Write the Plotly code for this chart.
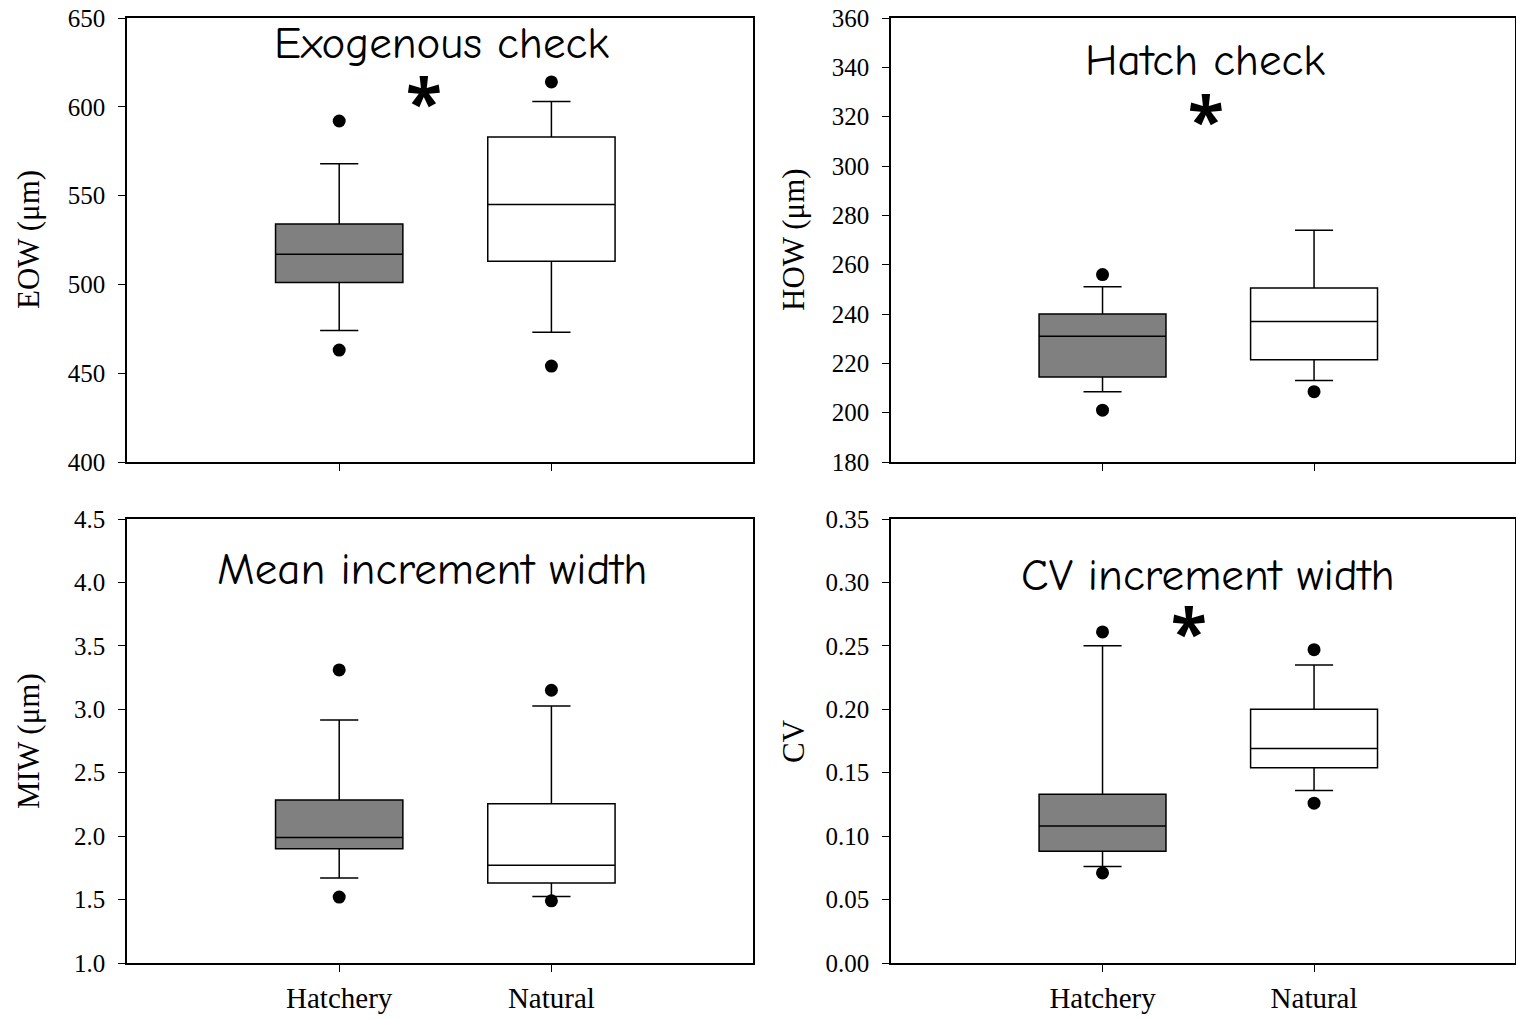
import plotly.graph_objects as go

groups = ["Hatchery", "Natural"]
xpos = [0, 1]

# EOW (um)
eow_q1 = [501, 513]
eow_med = [517, 545]
eow_q3 = [534, 583]
eow_lo = [474, 473]
eow_hi = [568, 603]
eow_out_hi = [592, 614]
eow_out_lo = [463, 454]

# HOW (um)
how_q1 = [214.5, 221.5]
how_med = [231, 237]
how_q3 = [240, 250.5]
how_lo = [208.5, 213]
how_hi = [251, 274]
how_out_hi = [256, None]
how_out_lo = [201, 208.5]

# MIW (um)
miw_q1 = [1.90, 1.63]
miw_med = [1.99, 1.77]
miw_q3 = [2.285, 2.255]
miw_lo = [1.67, 1.525]
miw_hi = [2.915, 3.025]
miw_out_hi = [3.31, 3.15]
miw_out_lo = [1.52, 1.49]

# CV
cv_q1 = [0.088, 0.154]
cv_med = [0.108, 0.169]
cv_q3 = [0.133, 0.200]
cv_lo = [0.076, 0.136]
cv_hi = [0.250, 0.235]
cv_out_hi = [0.261, 0.247]
cv_out_lo = [0.071, 0.126]

panels = [
    dict(q1=eow_q1, med=eow_med, q3=eow_q3, lo=eow_lo, hi=eow_hi, oh=eow_out_hi, ol=eow_out_lo,
         yr=[400, 650], dt=50, fmt="", ytitle="EOW (\u03bcm)", title="Exogenous check",
         star=(0.40, 603)),
    dict(q1=how_q1, med=how_med, q3=how_q3, lo=how_lo, hi=how_hi, oh=how_out_hi, ol=how_out_lo,
         yr=[180, 360], dt=20, fmt="", ytitle="HOW (\u03bcm)", title="Hatch check",
         star=(0.49, 319)),
    dict(q1=miw_q1, med=miw_med, q3=miw_q3, lo=miw_lo, hi=miw_hi, oh=miw_out_hi, ol=miw_out_lo,
         yr=[1.0, 4.5], dt=0.5, fmt=".1f", ytitle="MIW (\u03bcm)", title="Mean increment width",
         star=None),
    dict(q1=cv_q1, med=cv_med, q3=cv_q3, lo=cv_lo, hi=cv_hi, oh=cv_out_hi, ol=cv_out_lo,
         yr=[0.0, 0.35], dt=0.05, fmt=".2f", ytitle="CV", title="CV increment width",
         star=(0.41, 0.262)),
]

W, H = 1516, 1019
xdoms = [[127 / W, 753 / W], [891 / W, 1515 / W]]
ydoms = [[1 - 462 / H, 1 - 18 / H], [1 - 963 / H, 1 - 519 / H]]
title_pos = [(441, 43), (1205, 60), (432, 569), (1208, 575)]
ytitle_x = [28, 793, 28, 793]

fig = go.Figure()
fills = ["#808080", "#ffffff"]
serif = "Liberation Serif, Times New Roman, serif"

for i, p in enumerate(panels):
    r, c = divmod(i, 2)
    ax = "" if i == 0 else str(i + 1)
    xa, ya = "x" + ax, "y" + ax
    for g in range(2):
        fig.add_trace(go.Box(
            x=[xpos[g]], q1=[p["q1"][g]], median=[p["med"][g]], q3=[p["q3"][g]],
            lowerfence=[p["lo"][g]], upperfence=[p["hi"][g]],
            fillcolor=fills[g], line=dict(color="black", width=1.5),
            width=0.6, whiskerwidth=0.3, boxpoints=False, showlegend=False,
            xaxis=xa, yaxis=ya, hoverinfo="skip"))
    ox, oy = [], []
    for g in range(2):
        for v in (p["oh"][g], p["ol"][g]):
            if v is not None:
                ox.append(xpos[g]); oy.append(v)
    fig.add_trace(go.Scatter(x=ox, y=oy, mode="markers",
                             marker=dict(color="black", size=13), showlegend=False,
                             xaxis=xa, yaxis=ya, hoverinfo="skip"))
    n = round((p["yr"][1] - p["yr"][0]) / p["dt"])
    tv = [p["yr"][0] + k * p["dt"] for k in range(n + 1)]
    fig.layout["xaxis" + ax] = dict(
        domain=xdoms[c], range=[-1.0, 1.95], tickvals=xpos,
        ticktext=groups if r == 1 else ["", ""],
        ticks="outside", ticklen=7, tickcolor="black", showline=True, linecolor="black",
        linewidth=1.5, mirror=True, showgrid=False, zeroline=False, automargin=False,
        ticklabelstandoff=1,
        tickfont=dict(family=serif, size=29, color="black"), anchor=ya)
    fig.layout["yaxis" + ax] = dict(
        domain=ydoms[r], range=p["yr"], tickvals=tv,
        ticktext=[format(v, p["fmt"]) if p["fmt"] else str(int(round(v))) for v in tv],
        ticks="outside", ticklen=7, tickcolor="black", showline=True, linecolor="black",
        linewidth=1.5, mirror=True, showgrid=False, zeroline=False, automargin=False,
        ticklabelstandoff=8,
        tickfont=dict(family=serif, size=25, color="black"), anchor=xa)
    tx, ty = title_pos[i]
    fig.add_annotation(x=tx / W, y=1 - ty / H, xref="paper", yref="paper",
                       text=p["title"], showarrow=False, xanchor="center", yanchor="middle",
                       font=dict(family="Comic Sans MS, Comic Neue, Noto Sans, sans-serif",
                                 size=45, color="black"))
    ymid = (ydoms[r][0] + ydoms[r][1]) / 2
    fig.add_annotation(x=ytitle_x[i] / W, y=ymid, xref="paper", yref="paper",
                       text=p["ytitle"], showarrow=False, textangle=-90,
                       xanchor="center", yanchor="middle",
                       font=dict(family=serif, size=31, color="black"))
    if p["star"] is not None:
        fig.add_annotation(x=p["star"][0], y=p["star"][1], xref=xa, yref=ya,
                           text="<b>*</b>", showarrow=False, xanchor="center",
                           yanchor="middle",
                           font=dict(family="Noto Sans, sans-serif", size=66, color="black"))

fig.update_layout(width=W, height=H, margin=dict(l=0, r=0, t=0, b=0),
                  paper_bgcolor="white", plot_bgcolor="white")
fig.write_html("out.html")
